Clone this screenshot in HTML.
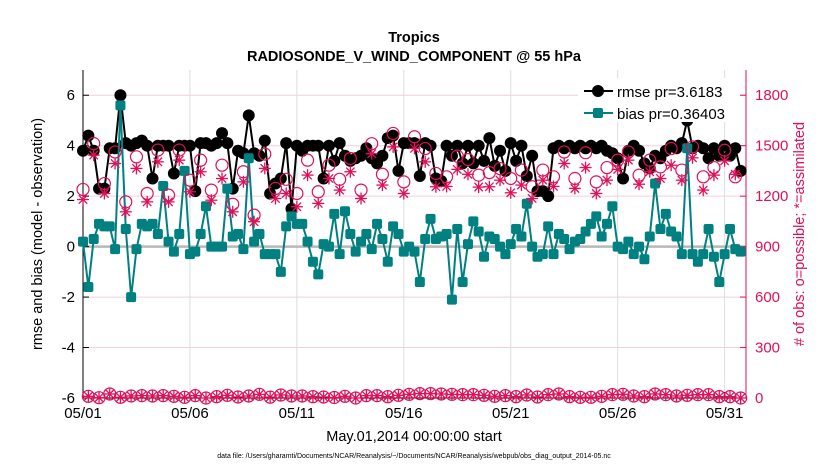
<!DOCTYPE html>
<html><head><meta charset="utf-8"><style>
body{margin:0;background:#fff;}
svg{display:block;font-family:"Liberation Sans",Arial,sans-serif;}
</style></head><body>
<svg id="chart" width="830" height="470" viewBox="0 0 830 470" xmlns="http://www.w3.org/2000/svg">
<rect width="830" height="470" fill="#fff"/>
<text x="414" y="42" text-anchor="middle" font-size="14.5" font-weight="bold">Tropics</text>
<text x="414" y="61" text-anchor="middle" font-size="14.5" font-weight="bold">RADIOSONDE_V_WIND_COMPONENT @ 55 hPa</text>
<g id="grid"></g>
<g id="axes"></g>
<g id="series"></g>
<g id="legend">
  <rect x="578" y="78" width="162" height="44" fill="#fff"/>
  <line x1="584" y1="91" x2="613" y2="91" stroke="#000" stroke-width="2"/>
  <circle cx="598" cy="91" r="6" fill="#000"/>
  <text x="617" y="97" font-size="15">rmse pr=3.6183</text>
  <line x1="584" y1="113" x2="613" y2="113" stroke="#008080" stroke-width="2"/>
  <rect x="593" y="108" width="10" height="10" rx="2" fill="#008080"/>
  <text x="617" y="119" font-size="15">bias pr=0.36403</text>
</g>
<text transform="translate(42,234) rotate(-90)" text-anchor="middle" font-size="14.5">rmse and bias (model - observation)</text>
<text transform="translate(804,234) rotate(-90)" text-anchor="middle" font-size="14.5" fill="#e0105a"># of obs: o=possible; *=assimilated</text>
<text x="414" y="441" text-anchor="middle" font-size="14.5">May.01,2014 00:00:00 start</text>
<text x="414" y="458" text-anchor="middle" font-size="7">data file: /Users/gharamti/Documents/NCAR/Reanalysis/~/Documents/NCAR/Reanalysis/webpub/obs_diag_output_2014-05.nc</text>
</svg>
<script>
const rmse=[3.8,4.4,3.8,2.3,2.3,3.9,3.9,6.0,4.1,4.0,4.1,4.2,4.0,2.7,4.0,4.0,4.0,2.9,4.0,4.0,4.0,2.2,4.1,4.1,4.0,4.1,4.5,4.1,
2.3,3.8,3.7,5.2,3.7,3.6,4.2,2.1,2.5,2.7,4.1,1.5,4.0,3.8,4.0,4.0,4.0,2.7,4.0,3.4,4.1,3.6,3.4,3.5,3.6,3.9,3.5,3.3,3.6,4.3,
4.4,3.0,4.1,4.1,4.1,2.8,4.1,4.0,2.7,2.6,4.0,3.6,4.0,3.3,4.0,3.3,4.0,3.4,4.3,3.2,3.8,3.0,4.1,3.4,4.0,2.8,3.6,2.2,2.2,2.0,
3.9,4.0,3.9,4.0,3.9,4.0,3.9,4.0,3.9,4.0,3.8,3.7,3.5,2.7,3.8,4.0,3.8,3.3,3.1,3.6,3.5,3.8,4.0,3.9,4.1,5.0,3.9,4.0,3.9,3.5,3.9,3.6,4.0,3.6,3.9,3.0];
const bias=[0.2,-1.6,0.3,0.9,0.8,0.8,-0.1,5.6,0.7,-2.0,-0.1,0.9,0.8,0.9,0.5,2.4,0.2,-0.2,0.5,3.0,-0.3,-0.2,0.5,1.6,0.0,0.0,0.0,2.3,
0.4,0.5,-0.1,3.5,0.2,0.5,-0.3,-0.3,-0.3,-1.0,0.8,1.2,0.9,0.9,0.2,-0.6,-1.1,0.1,0.0,1.3,-0.3,1.4,0.5,-0.2,0.2,0.5,-0.1,0.9,0.3,-0.6,
0.8,0.5,-0.2,0.0,-0.2,-1.4,0.3,1.1,0.3,0.4,0.5,-2.1,0.7,-1.4,0.1,1.0,0.6,-0.4,0.4,0.3,0.0,-0.3,0.1,0.7,0.4,1.7,0.0,-0.4,-0.3,0.8,
-0.3,0.5,0.3,-0.1,0.2,0.3,0.6,0.9,1.2,0.4,0.9,1.6,0.0,-0.1,0.2,-0.3,0.0,-0.5,0.4,2.5,0.7,1.3,0.6,0.4,-0.3,3.9,-0.3,-0.6,-0.3,0.7,-0.4,-1.4,-0.3,0.7,-0.1,-0.2];
const possibleMain=[1240,1513,1275,1463,1166,1434,1216,1474,1206,1474,1295,1414,1236,1384,
1152,1345,1087,1450,1246,1300,1216,1414,1226,1384,1300,1424,1236,1512,1330,
1573,1285,1553,1483,1335,1315,1438,1418,1325,1340,1364,1305,1355,1256,1355,
1315,1463,1305,1458,1285,1370,1414,1463,1325,1414,1374,1483,1355,1493,1315,1370,1473,1315];
const assimMain=[1180,1444,1216,1394,1107,1365,1166,1404,1166,1414,1226,1345,1176,1305,
1107,1285,1048,1365,1186,1216,1137,1325,1157,1305,1236,1345,1186,1453,1266,
1493,1216,1484,1404,1256,1258,1359,1330,1254,1256,1295,1220,1266,1186,1295,
1258,1394,1246,1370,1216,1295,1359,1414,1271,1345,1305,1384,1295,1428,1236,1325,1410,1330];
const countsOff=[10,2,24,4,12,14,12,14,10,4,14,0,8,16,6,12,22,5,18,12,12,8,6,3,10,0,14,14,8,16,22,26,26,24,22,20,20,16,10,14,8,18,6,20,24,8,4,4,10,20,22,12,8,24,20,12,16,20,20,8,8,0];
const xTickDays=[0,5,10,15,20,25,30];
const xTickLabels=["05/01","05/06","05/11","05/16","05/21","05/26","05/31"];
const yTicksLeft=[-6,-4,-2,0,2,4,6];
const yTicksRight=[0,300,600,900,1200,1500,1800];

const NS="http://www.w3.org/2000/svg";
const X0=83,X1=746,Y0=70,Y1=398,PINK="#e0105a",TEAL="#008080";
function xs(t){return X0+t*(X1-X0)/31;}
function yl(v){return Y1-(v+6)*(Y1-Y0)/13;}
function yr(c){return yl(c/150-6);}
function mk(tag,attrs,parent){const e=document.createElementNS(NS,tag);for(const k in attrs)e.setAttribute(k,attrs[k]);parent.appendChild(e);return e;}
const grid=document.getElementById('grid'),axes=document.getElementById('axes'),ser=document.getElementById('series');

yTicksLeft.forEach(v=>{if(v!==-6&&v!==0){const l=mk('line',{x1:X0,x2:X1,y1:yl(v),y2:yl(v),stroke:'#f4cfdc','stroke-width':1},grid);

}});
xTickDays.forEach(d=>{const l=mk('line',{x1:xs(d),x2:xs(d),y1:Y0,y2:Y1,stroke:'#dedede','stroke-width':1},grid);

});
const zl=mk('line',{x1:X0,x2:X1,y1:yl(0),y2:yl(0),stroke:'#b8b8b8','stroke-width':2.5},grid);



// axes
mk('line',{x1:X0,x2:X0,y1:Y0,y2:Y1,stroke:'#000','stroke-width':1},axes);
mk('line',{x1:X0,x2:X1,y1:Y1,y2:Y1,stroke:'#000','stroke-width':1},axes);
mk('line',{x1:X1,x2:X1,y1:Y0,y2:Y1,stroke:PINK,'stroke-width':1},axes);
yTicksLeft.forEach(v=>{mk('line',{x1:X0,x2:X0+6,y1:yl(v),y2:yl(v),stroke:'#000'},axes);
const t=mk('text',{x:X0-8,y:yl(v)+5,'text-anchor':'end','font-size':15},axes);t.textContent=v;

});
yTicksRight.forEach(c=>{mk('line',{x1:X1-6,x2:X1,y1:yr(c),y2:yr(c),stroke:PINK},axes);
const t=mk('text',{x:X1+9,y:yr(c)+5,'font-size':15,fill:PINK},axes);t.textContent=c;

});
xTickDays.forEach((d,i)=>{mk('line',{x1:xs(d),x2:xs(d),y1:Y1-6,y2:Y1,stroke:'#000'},axes);
const t=mk('text',{x:xs(d),y:Y1+20,'text-anchor':'middle','font-size':15},axes);t.textContent=xTickLabels[i];

});

// rmse
const tAll=rmse.map((_,i)=>i*0.25);
const rp=mk('polyline',{points:rmse.map((v,i)=>xs(tAll[i])+','+yl(v)).join(' '),fill:'none',stroke:'#000','stroke-width':2},ser);


rmse.forEach((v,i)=>{const c=mk('circle',{cx:xs(i*0.25),cy:yl(v),r:6,fill:'#000'},ser);

});
// bias
const bp=mk('polyline',{points:bias.map((v,i)=>xs(i*0.25)+','+yl(v)).join(' '),fill:'none',stroke:TEAL,'stroke-width':2},ser);


bias.forEach((v,i)=>{const r=mk('rect',{x:xs(i*0.25)-5,y:yl(v)-5,width:10,height:10,rx:2,fill:TEAL},ser);

});
// counts
function asterisk(cx,cy,s){const g=mk('g',{stroke:PINK,'stroke-width':1.3},ser);
mk('line',{x1:cx-s,x2:cx+s,y1:cy,y2:cy},g);mk('line',{x1:cx,x2:cx,y1:cy-s,y2:cy+s},g);
mk('line',{x1:cx-s*0.7,x2:cx+s*0.7,y1:cy-s*0.7,y2:cy+s*0.7},g);mk('line',{x1:cx-s*0.7,x2:cx+s*0.7,y1:cy+s*0.7,y2:cy-s*0.7},g);return g;}
assimMain.forEach((c,j)=>{const g=asterisk(xs(j*0.5),yr(c),6);

});
possibleMain.forEach((c,j)=>{const e=mk('circle',{cx:xs(j*0.5),cy:yr(c),r:6,fill:'none',stroke:PINK,'stroke-width':1.2},ser);

});
countsOff.forEach((c,j)=>{const g=asterisk(xs(0.25+j*0.5),yr(c),6);


const e=mk('circle',{cx:xs(0.25+j*0.5),cy:yr(c),r:6,fill:'none',stroke:PINK,'stroke-width':1.2},ser);

});
</script>
</body></html>
